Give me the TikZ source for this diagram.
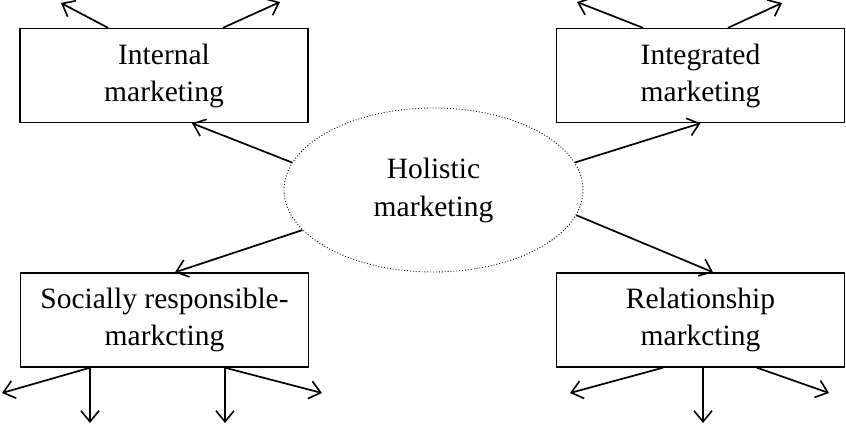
\documentclass[tikz,border=0pt]{standalone}
\usepackage{fontspec}
\setmainfont{Liberation Serif}
\usetikzlibrary{arrows.meta,shapes.geometric}
\begin{document}
\begin{tikzpicture}[x=1pt,y=-1pt,
  box/.style={draw,line width=1.4pt,minimum width=288pt,minimum height=94pt,inner sep=0pt,align=center,font=\fontsize{29.5}{37}\selectfont},
  holo/.style={draw,ellipse,dotted,line width=0.9pt,minimum width=299pt,minimum height=164pt,inner sep=0pt,align=center,font=\fontsize{29.5}{38}\selectfont},
  arr/.style={line width=1.7pt,-{Straight Barb[length=11pt,width=18pt,line width=1.6pt]}}]
\useasboundingbox (0,0) rectangle (846,424);
\node[box] (int) at (164,75.5) {Internal\\marketing};
\node[box] (ing) at (700.5,75.5) {Integrated\\marketing};
\node[box] (soc) at (164.5,320) {Socially responsible-\\markcting};
\node[box] (rel) at (700.5,320) {Relationship\\markcting};
\node[holo] (hol) at (433.5,190) {Holistic\\marketing};
% free ends
\coordinate (a1) at (61,3);
\coordinate (a2) at (280,2);
\coordinate (b1) at (577,2);
\coordinate (b2) at (782,3);
\coordinate (c1) at (2,393);
\coordinate (c2) at (90,423);
\coordinate (c3) at (225,423);
\coordinate (c4) at (322,393);
\coordinate (d1) at (570,393);
\coordinate (d2) at (703,423);
\coordinate (d3) at (829,393);
% ellipse to boxes
\draw[arr] (hol.169) -- ([xshift=28pt]int.south);
\draw[arr] (hol.11) -- (ing.south);
\draw[arr] (hol.197) -- ([xshift=10.5pt]soc.north);
\draw[arr] (hol.350) -- ([xshift=12.5pt]rel.north);
% outgoing
\draw[arr] ([xshift=-56pt]int.north) -- (a1);
\draw[arr] ([xshift=59pt]int.north) -- (a2);
\draw[arr] ([xshift=-57.5pt]ing.north) -- (b1);
\draw[arr] ([xshift=27.5pt]ing.north) -- (b2);
\draw[arr] ([xshift=-74.5pt]soc.south) -- (c1);
\draw[arr] ([xshift=-74.5pt]soc.south) -- (c2);
\draw[arr] ([xshift=60.5pt]soc.south) -- (c3);
\draw[arr] ([xshift=60.5pt]soc.south) -- (c4);
\draw[arr] ([xshift=-37.5pt]rel.south) -- (d1);
\draw[arr] ([xshift=2.5pt]rel.south) -- (d2);
\draw[arr] ([xshift=56.5pt]rel.south) -- (d3);
\end{tikzpicture}
\end{document}
